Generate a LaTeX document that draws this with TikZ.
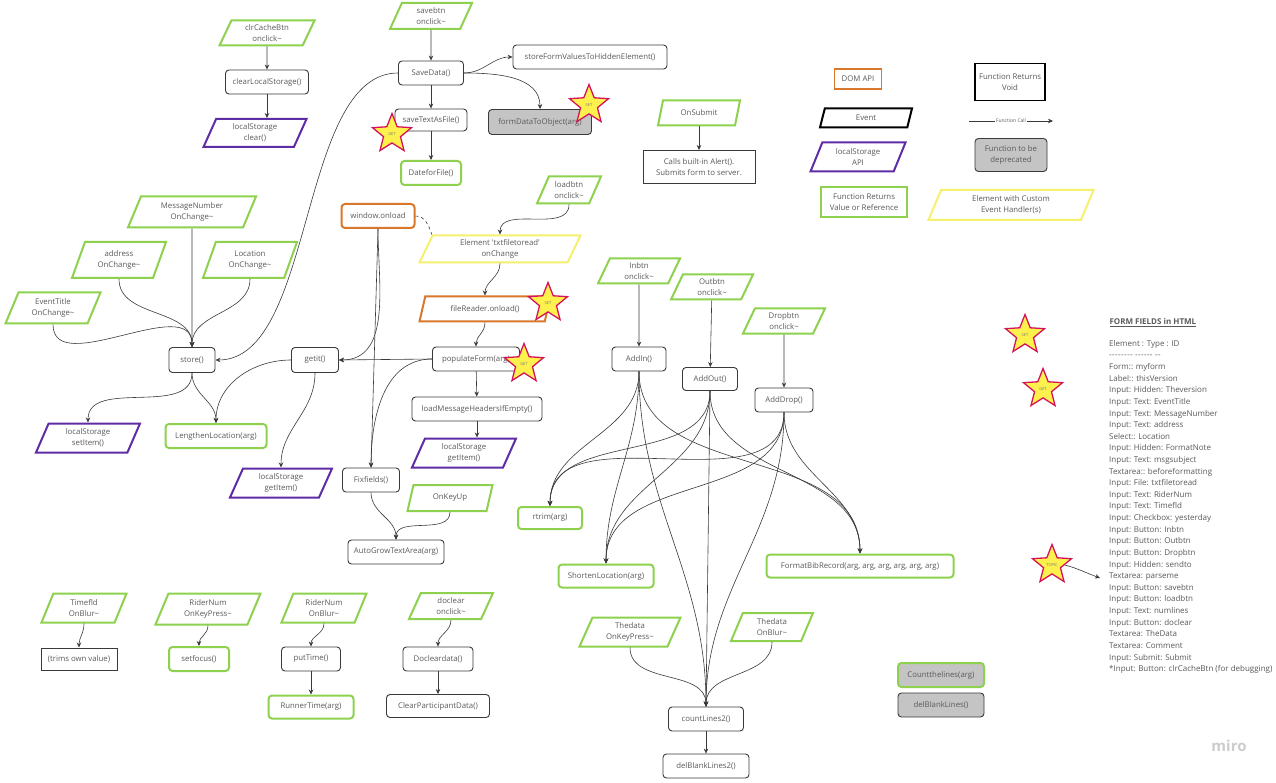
\documentclass[tikz,border=0pt]{standalone}
\usepackage{fontspec}
\setmainfont{Open Sans}
\usetikzlibrary{shapes.geometric, arrows.meta, positioning}

\definecolor{txtgray}{HTML}{5A5A5A}
\definecolor{edgegray}{HTML}{3A3A3A}
\definecolor{fngreen}{HTML}{8DD14F}
\definecolor{lspurple}{HTML}{5E2CA5}
\definecolor{domorange}{HTML}{D9782D}
\definecolor{elyellow}{HTML}{F5F06E}
\definecolor{oldgray}{HTML}{C4C4C4}
\definecolor{starfill}{HTML}{FFF14D}
\definecolor{starred}{HTML}{D4145A}

\newcommand\tld{\textasciitilde}
\newcommand\fdash{-\kern0.4pt}

\tikzset{
  lbl/.style={font=\fontsize{7.8}{11}\selectfont, text=txtgray, align=center},
  fn/.style={lbl, draw=edgegray, line width=0.9pt, rounded corners=3.5pt, fill=white, minimum height=24pt, inner sep=2pt},
  fnret/.style={fn, draw=fngreen, line width=2pt},
  fnold/.style={fn, fill=oldgray},
  plainbox/.style={lbl, draw=edgegray, line width=1pt, fill=white, inner sep=2pt},
  evbox/.style={lbl, trapezium, trapezium left angle=58, trapezium right angle=122, trapezium stretches body, draw=fngreen, line width=2pt, fill=white, minimum height=26pt, inner sep=1pt},
  lsbox/.style={evbox, draw=lspurple},
  starmark/.style={star, star points=5, star point ratio=2.3, draw=starred, fill=starfill, line width=1.3pt, minimum size=41pt, inner sep=0pt, font=\fontsize{4}{4.5}\selectfont, text=black!55},
  call/.style={->, draw=edgegray, line width=0.6pt},
}

\begin{document}
\begin{tikzpicture}[x=1pt, y=1pt, >={Stealth[length=5pt, width=4.5pt]}]
\useasboundingbox (0,0) rectangle (1276,-783);
\fill[white] (0,0) rectangle (1276,-783);

% clear cache
\node[evbox, minimum width=95pt, minimum height=25pt] (clrbtn) at (267,-33) {clrCacheBtn\\onclick\tld};
\node[fn, minimum width=83pt] (clearls) at (267,-82) {clearLocalStorage()};
\node[lsbox, minimum width=103pt, minimum height=28pt] (lsclear) at (255,-133) {localStorage\\clear()};

% save
\node[evbox, minimum width=82pt] (savebtn) at (431,-16) {savebtn\\onclick\tld};
\node[fn, minimum width=65pt] (savedata) at (431,-73) {SaveData()};
\node[fn, minimum width=154pt] (storeform) at (590,-57) {storeFormValuesToHiddenElement()};
\node[fn, minimum width=72pt, minimum height=22pt] (savetxt) at (431,-120) {saveTextAsFile()};
\node[fnold, minimum width=103pt, minimum height=25pt] (formobj) at (540,-122) {formDataToObject(arg)};
\node[fnret, minimum width=60pt] (datefile) at (431,-173) {DateforFile()};

% submit
\node[evbox, minimum width=82pt, minimum height=25pt] (onsubmit) at (699,-113) {OnSubmit};
\node[plainbox, minimum width=112pt, minimum height=33pt] (alert) at (699,-167) {Calls built-in Alert().\\Submits form to server.};

% legend
\node[plainbox, draw=domorange, line width=1.6pt, minimum width=47pt, minimum height=20pt] (lgdom) at (858,-79) {DOM API};
\node[plainbox, draw=black, line width=1.6pt, minimum width=70pt, minimum height=37pt] (lgvoid) at (1010,-82) {Function Returns\\Void};
\node[evbox, draw=black, minimum width=92pt, minimum height=19pt] (lgevent) at (866,-118) {Event};
\coordinate (lgcall0) at (969,-121);
\coordinate (lgcall1) at (1053,-121);
\node[lsbox, minimum width=95pt, minimum height=29pt] (lgls) at (858,-157) {localStorage\\API};
\node[fnold, minimum width=72pt, minimum height=33pt] (lgold) at (1011,-155) {Function to be\\deprecated};
\node[plainbox, draw=fngreen, line width=1.6pt, minimum width=86pt, minimum height=30pt] (lgret) at (864,-202) {Function Returns\\Value or Reference};
\node[evbox, draw=elyellow, minimum width=165pt, minimum height=30pt] (lgcustom) at (1011,-205) {Element with Custom\\Event Handler(s)};

% store
\node[evbox, minimum width=128pt, minimum height=31pt] (msgnum) at (192,-212) {MessageNumber\\OnChange\tld};
\node[evbox, minimum width=94pt, minimum height=36pt] (address) at (119,-260) {address\\OnChange\tld};
\node[evbox, minimum width=94pt, minimum height=36pt] (location) at (250,-260) {Location\\OnChange\tld};
\node[evbox, minimum width=95pt, minimum height=31pt] (evtitle) at (53,-308) {EventTitle\\OnChange\tld};
\node[fn, minimum width=46pt, minimum height=25pt] (store) at (192,-360) {store()};
\node[fn, minimum width=47pt, minimum height=25pt] (getit) at (315,-360) {getit()};
\node[lsbox, minimum width=104pt, minimum height=29pt] (lsset) at (88,-438) {localStorage\\setItem()};
\node[fnret, minimum width=101pt] (lengthen) at (216,-436) {LengthenLocation(arg)};
\node[lsbox, minimum width=102pt, minimum height=29pt] (lsgetA) at (281,-483) {localStorage\\getItem()};

% load
\node[fn, draw=domorange, line width=2pt, minimum width=73pt] (winload) at (378,-216) {window.onload};
\node[evbox, minimum width=64pt, minimum height=27pt] (loadbtn) at (569,-190) {loadbtn\\onclick\tld};
\node[evbox, draw=elyellow, minimum width=161pt, minimum height=27pt] (txtfile) at (500,-249) {Element \textquotesingle txtfiletoread\textquotesingle\\onChange};
\node[evbox, draw=domorange, minimum width=131pt, minimum height=25pt] (freader) at (485,-309) {fileReader.onload()};
\node[fn, minimum width=87pt] (popform) at (476,-359) {populateForm(arg)};
\node[fn, minimum width=130pt] (loadhdr) at (477,-409) {loadMessageHeadersIfEmpty()};
\node[lsbox, minimum width=104pt, minimum height=29pt] (lsgetB) at (464,-453) {localStorage\\getItem()};
\node[fn, minimum width=57pt] (fixfields) at (371,-480) {Fixfields()};
\node[evbox, minimum width=85pt, minimum height=26pt] (onkeyup) at (450,-498) {OnKeyUp};
\node[fn, minimum width=96pt] (autogrow) at (396,-552) {AutoGrowTextArea(arg)};

% in / out / drop
\node[evbox, minimum width=82pt, minimum height=25pt] (inbtn) at (639,-271) {Inbtn\\onclick\tld};
\node[evbox, minimum width=82pt, minimum height=25pt] (outbtn) at (712,-287) {Outbtn\\onclick\tld};
\node[evbox, minimum width=82pt, minimum height=25pt] (dropbtn) at (784,-321) {Dropbtn\\onclick\tld};
\node[fn, minimum width=54pt] (addin) at (639,-359) {AddIn()};
\node[fn, minimum width=55pt, minimum height=23pt] (addout) at (710,-379) {AddOut()};
\node[fn, minimum width=58pt] (adddrop) at (784,-400) {AddDrop()};
\node[fnret, minimum width=64pt, minimum height=22pt] (rtrim) at (550,-518) {rtrim(arg)};
\node[fnret, minimum width=95pt, minimum height=23pt] (shorten) at (606,-576) {ShortenLocation(arg)};
\node[fnret, minimum width=187pt, minimum height=23pt] (fmtbib) at (860,-566) {FormatBibRecord(arg, arg, arg, arg, arg, arg)};
\node[evbox, minimum width=101pt, minimum height=29pt] (tdkey) at (630,-632) {Thedata\\OnKeyPress\tld};
\node[evbox, minimum width=82pt, minimum height=28pt] (tdblur) at (772,-627) {Thedata\\OnBlur\tld};
\node[fn, minimum width=75pt] (count2) at (706,-719) {countLines2()};
\node[fn, minimum width=86pt] (delblank2) at (706,-766) {delBlankLines2()};
\node[fnret, fill=oldgray, minimum width=86pt] (countold) at (941,-675) {Countthelines(arg)};
\node[fnold, minimum width=86pt] (delold) at (941,-705) {delBlankLines()};

% bottom row
\node[evbox, minimum width=85pt, minimum height=29pt] (timefld) at (84,-608) {Timefld\\OnBlur\tld};
\node[plainbox, minimum width=76pt, minimum height=22pt] (trims) at (79,-659) {(trims own value)};
\node[evbox, minimum width=105pt, minimum height=31pt] (ridkey) at (208,-609) {RiderNum\\OnKeyPress\tld};
\node[fnret, minimum width=60pt] (setfocus) at (199,-659) {setfocus()};
\node[evbox, minimum width=85pt, minimum height=29pt] (ridblur) at (324,-608) {RiderNum\\OnBlur\tld};
\node[fn, minimum width=59pt] (puttime) at (311,-659) {putTime()};
\node[fnret, minimum width=85pt, minimum height=23pt] (runtime) at (311,-707) {RunnerTime(arg)};
\node[evbox, minimum width=84pt, minimum height=26pt] (doclear) at (451,-606) {doclear\\onclick\tld};
\node[fn, minimum width=70pt] (docleard) at (438,-659) {Docleardata()};
\node[fn, minimum width=103pt, minimum height=23pt] (clrpart) at (438,-706) {ClearParticipantData()};

% form fields
\node[lbl, align=left, anchor=north west, font=\fontsize{8}{9}\selectfont\bfseries] (fftitle) at (1106,-315) {\underline{FORM FIELDS in HTML}};
\node[lbl, align=left, anchor=north west, inner sep=0pt, font=\fontsize{8}{11.62}\selectfont] (fflist) at (1109,-340) {Element : Type : ID\\
\fdash\fdash\fdash\fdash\fdash\fdash\fdash\fdash\ \fdash\fdash\fdash\fdash\fdash\fdash\ \fdash\fdash\\
Form:: myform\\
Label:: thisVersion\\
Input: Hidden: Theversion\\
Input: Text: EventTitle\\
Input: Text: MessageNumber\\
Input: Text: address\\
Select:: Location\\
Input: Hidden: FormatNote\\
Input: Text: msgsubject\\
Textarea:: beforeformatting\\
Input: File: txtfiletoread\\
Input: Text: RiderNum\\
Input: Text: Timefld\\
Input: Checkbox: yesterday\\
Input: Button: Inbtn\\
Input: Button: Outbtn\\
Input: Button: Dropbtn\\
Input: Hidden: sendto\\
Textarea: parseme\\
Input: Button: savebtn\\
Input: Button: loadbtn\\
Input: Text: numlines\\
Input: Button: doclear\\
Textarea: TheData\\
Textarea: Comment\\
Input: Submit: Submit\\
*Input: Button: clrCacheBtn (for debugging)};
\node[font=\fontsize{15}{15}\selectfont\bfseries, text=black!20] (miro) at (1229,-746) {miro};

% connectors
\draw[call] (clrbtn) -- (clearls);
\draw[call] (clearls.south) -- (clearls.south |- lsclear.north);
\draw[call] (savebtn) -- (savedata);
\draw[call] (savedata) -- (savetxt);
\draw[call] (savetxt) -- (datefile);
\draw[call] (savedata.east) to[out=0, in=180] (storeform.west);
\draw[call] (savedata.east) to[out=0, in=90] (formobj.north);
\draw[call] (savedata.west) .. controls +(-100,0) and +(100,0) .. (store.east);
\draw[call] (onsubmit) -- (alert);
\draw[call] (lgcall0) -- node[fill=white, font=\fontsize{5}{6}\selectfont, text=txtgray, inner sep=1pt] (lgcalltxt) {Function Call} (lgcall1);

\draw[call] (msgnum) -- (store);
\draw[call] (address.south) to[out=-90, in=90] (store.north);
\draw[call] (location.south) to[out=-90, in=90] (store.north);
\draw[call] (evtitle.south) to[out=-90, in=90] (store.north);
\draw[call] (store.south) to[out=-90, in=90] (lsset.north);
\draw[call] (store.south) to[out=-90, in=90] (lengthen.north);
\draw[call] (getit.west) to[out=180, in=90] (lengthen.north);
\draw[call] (getit.south) to[out=-90, in=90] (lsgetA.north);

\draw[call] (winload.south) to[out=-90, in=0] (getit.east);
\draw[call] (winload.south) -- (fixfields.north);
\draw[dashed, draw=edgegray, line width=0.6pt] (winload.east) to[out=0, in=110] (txtfile.top left corner);
\draw[call] (loadbtn.south) to[out=-90, in=90] (txtfile.north);
\draw[call] (txtfile.south) to[out=-90, in=90] (freader.north);
\draw[call] (freader.south) to[out=-90, in=90] (popform.north);
\draw[call] (popform.west) -- (getit.east);
\draw[call] (popform.west) to[out=180, in=90] (fixfields.north);
\draw[call] (popform) -- (loadhdr);
\draw[call] (loadhdr.south) -- (loadhdr.south |- lsgetB.north);
\draw[call] (fixfields.south) to[out=-90, in=90] (autogrow.north);
\draw[call] (onkeyup.south) to[out=-90, in=90] (autogrow.north);

\draw[call] (inbtn) -- (addin);
\draw[call] (outbtn) -- (addout);
\draw[call] (dropbtn) -- (adddrop);
\draw[call] (addin.south) to[out=-90, in=90] (rtrim.north); \draw[call] (addin.south) to[out=-90, in=90] (shorten.north);
\draw[call] (addin.south) to[out=-90, in=90] (fmtbib.north); \draw[call] (addin.south) to[out=-90, in=90] (count2.north);
\draw[call] (addout.south) to[out=-90, in=90] (rtrim.north); \draw[call] (addout.south) to[out=-90, in=90] (shorten.north);
\draw[call] (addout.south) to[out=-90, in=90] (fmtbib.north); \draw[call] (addout.south) -- (count2.north);
\draw[call] (adddrop.south) to[out=-90, in=90] (rtrim.north); \draw[call] (adddrop.south) to[out=-90, in=90] (shorten.north);
\draw[call] (adddrop.south) to[out=-90, in=90] (fmtbib.north); \draw[call] (adddrop.south) to[out=-90, in=90] (count2.north);
\draw[call] (tdkey.south) to[out=-90, in=90] (count2.north);
\draw[call] (tdblur.south) to[out=-90, in=90] (count2.north);
\draw[call] (count2) -- (delblank2);

\draw[call] (timefld.south) to[out=-90, in=90] (trims.north);
\draw[call] (ridkey.south) to[out=-90, in=90] (setfocus.north);
\draw[call] (ridblur.south) to[out=-90, in=90] (puttime.north);
\draw[call] (puttime) -- (runtime);
\draw[call] (doclear.south) to[out=-90, in=90] (docleard.north);
\draw[call] (docleard) -- (clrpart);

% stars
\node[starmark] (starA) at (589,-105) {SET};
\node[starmark] (starB) at (392,-134) {GET};
\node[starmark] (starC) at (548,-303) {SET};
\node[starmark] (starD) at (524,-364) {GET};
\node[starmark] (starE) at (1025,-335) {SET};
\node[starmark] (starF) at (1043,-389) {GET};
\node[starmark] (starG) at (1052,-565) {TOPIC};
\coordinate (topicend) at (1100,-578);
\draw[call] (starG.east) to[out=-15, in=160] (topicend);
\end{tikzpicture}
\end{document}
